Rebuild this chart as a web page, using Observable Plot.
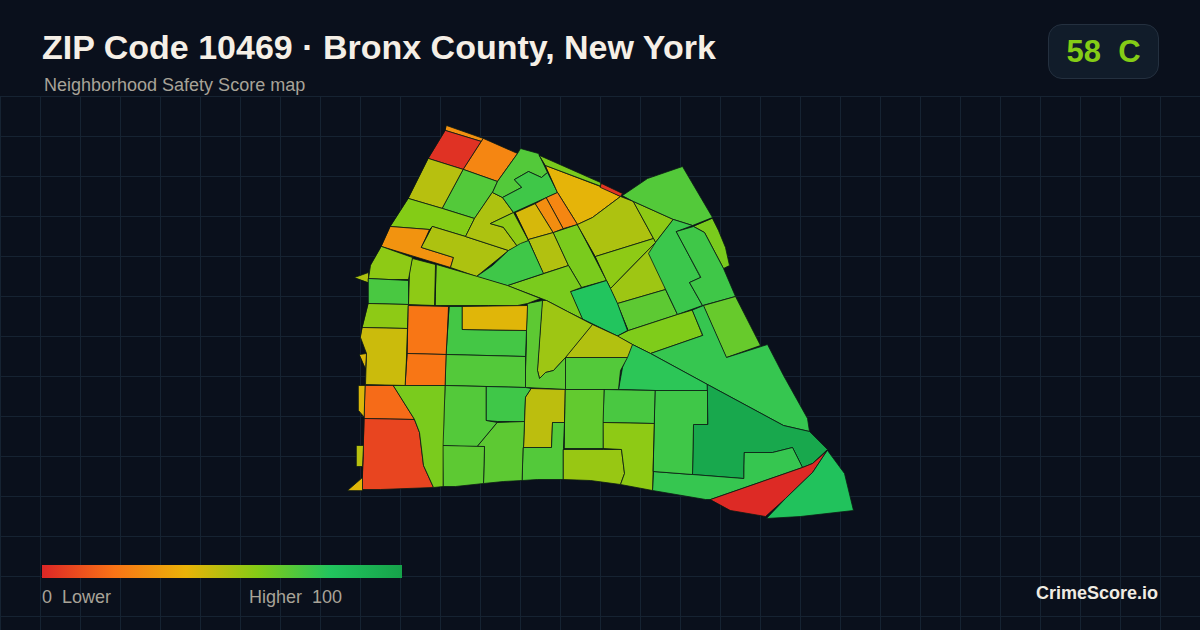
<!DOCTYPE html>
<html>
<head>
<meta charset="utf-8">
<script src="https://cdn.jsdelivr.net/npm/d3@7"></script>
<script src="https://cdn.jsdelivr.net/npm/@observablehq/plot@0.6"></script>
<style>
html,body{margin:0;padding:0;background:#0a101c;}
#page{position:relative;width:1200px;height:630px;overflow:hidden;background:#0a101c;font-family:"Liberation Sans",Arial,sans-serif;}
#grid{position:absolute;left:0;top:96px;width:1200px;height:534px;
background-image:linear-gradient(#162332 1px,transparent 1px),linear-gradient(90deg,#162332 1px,transparent 1px);background-size:40px 40px;}
#map{position:absolute;left:0;top:96px;}
#title{position:absolute;left:42px;top:28px;font-size:34px;line-height:38px;font-weight:700;color:#f5efe6;white-space:nowrap;}
#subtitle{position:absolute;left:44px;top:75px;font-size:18px;line-height:20px;color:#a8a398;white-space:nowrap;}
#badge{position:absolute;left:1048px;top:24px;width:109px;height:53px;border:1px solid #24303f;border-radius:14px;background:#111c2a;color:#84cc16;font-size:31px;font-weight:700;line-height:53px;text-align:center;white-space:pre;}
#bar{position:absolute;left:42px;top:565px;width:360px;height:13px;}
.lg{position:absolute;top:587px;font-size:18px;line-height:20px;color:#a8a398;white-space:pre;}
#brand{position:absolute;right:42px;top:583px;font-size:18px;line-height:20px;font-weight:700;color:#f0ebe3;white-space:nowrap;}
</style>
</head>
<body>
<div id="page">
  <div id="grid"></div>
  <div id="map"></div>
  <div id="title"></div>
  <div id="subtitle"></div>
  <div id="badge"></div>
  <div id="bar"></div>
  <div class="lg" id="lgLow" style="left:42px"></div>
  <div class="lg" id="lgHigh" style="left:249px"></div>
  <div id="brand"></div>
</div>
<script>
const titleText = "ZIP Code 10469 · Bronx County, New York";
const subtitleText = "Neighborhood Safety Score map";
const badgeText = "58  C";
const lowLabel = "0  Lower";
const highLabel = "Higher  100";
const brandText = "CrimeScore.io";

const scoreStops = [0, 20, 40, 60, 80, 100];
const scoreColors = ["#dc2626", "#f97316", "#eab308", "#84cc16", "#22c55e", "#16a34a"];

const zoneScores = [
  29, 3, 26, 50, 70, 60, 30, 52, 52, 58, 70, 74, 41, 62, 4,
  44, 28, 26, 51, 62, 52, 58, 58, 55, 68, 80, 62, 74,
  70, 62, 75, 74, 66, 61, 76, 78, 97, 76, 1, 82,
  70, 51, 55, 68, 62, 58, 58, 52, 72, 58, 46, 43, 21, 21, 73, 42, 70,
  43, 18, 8, 50, 42, 62, 70, 74, 49, 68, 68, 70, 67, 56, 72, 58, 74
];

const zoneRings = [
  [[446,125],[483,138],[481,141],[445,130]],
  [[445,130],[481,141],[463,169],[428,158]],
  [[483,138],[517,153],[497,181],[463,169]],
  [[428,158],[463,169],[442,208],[408,198]],
  [[463,169],[497,181],[492,192],[474,218],[442,208]],
  [[408,198],[442,208],[474,218],[465,236],[432,226],[429,229],[390,226]],
  [[390,226],[429,229],[421,247],[453,257],[450,267],[381,246]],
  [[432,226],[465,236],[508,250],[476,276],[450,267],[453,257],[421,247]],
  [[492,192],[502,197],[513,212],[490,223],[503,227],[517,246],[508,250],[465,236],[474,218]],
  [[490,223],[513,212],[528,240],[517,246],[503,227]],
  [[517,153],[520,148],[538,153],[547,172],[541,177],[528,171],[514,179],[521,187],[502,197],[492,192],[497,181]],
  [[514,179],[528,171],[541,177],[547,172],[557,192],[513,212],[502,197],[521,187]],
  [[545,165],[600,186],[620,196],[592,217],[577,224],[557,192]],
  [[539,155],[600,182],[601,186],[545,165]],
  [[601,183],[622,193],[620,196],[600,187]],
  [[515,212],[535,203],[553,232],[528,239]],
  [[535,203],[546,197],[563,228],[553,232]],
  [[546,197],[557,192],[577,224],[563,228]],
  [[528,239],[553,232],[568,265],[543,273]],
  [[553,232],[577,224],[606,280],[581,287],[568,265]],
  [[577,224],[592,217],[620,196],[633,201],[653,238],[595,256]],
  [[633,201],[673,219],[655,242],[653,238]],
  [[595,256],[653,238],[655,242],[610,288],[606,280]],
  [[610,288],[655,242],[665,289],[617,303]],
  [[617,303],[665,289],[677,314],[628,330]],
  [[570,291],[606,280],[610,288],[617,303],[627,330],[617,335.5],[582,318.5]],
  [[507,285],[568,265],[581,287],[570,291],[582,318.5],[567,311],[546,300]],
  [[476,276],[492,265],[508,250],[520,243],[528,240],[543,273],[507,285]],
  [[622,195],[647,178],[682,166],[712,217],[692,225],[673,219],[633,201]],
  [[712,218],[718,230],[725,247],[729,265],[723,268],[704,232],[693,226]],
  [[673,219],[692,225],[676,231],[700,277],[689,282],[702,305],[677,314],[648,253],[655,242]],
  [[676,231],[693,226],[704,232],[723,268],[735,296],[702,305],[689,282],[700,277]],
  [[703,305],[735,296],[760,345],[726,357]],
  [[617,335.5],[628,330],[677,314],[692,309.5],[702,335],[650,353],[632,344]],
  [[692,309.5],[703,305],[726,357],[767,344],[783,375],[807,418],[809,431],[783,425],[707,384],[650,353],[702,335]],
  [[632,344],[650,353],[707,384],[707,390],[655,390],[618,389],[622,367]],
  [[707,384],[783,425],[809,431],[827,449],[812,463],[802,467],[792,447],[772,452],[744,452],[743,478],[692,474],[693,424],[707,424]],
  [[744,452],[772,452],[792,447],[802,467],[710,499],[705,499],[652,490],[653,471],[692,474],[743,478]],
  [[710,499],[802,467],[812,463],[827,450],[812,472],[785,498],[765,516],[730,510]],
  [[827,450],[844,473],[853,510],[800,516],[766,518],[785,498],[812,472]],
  [[565,357],[627,357],[620,370],[618,389],[565,389]],
  [[592,324],[617,335.5],[632,344],[627,357],[565,357]],
  [[542,300],[546,300],[567,311],[592,324],[565,357],[553,370],[545,372],[539,378],[537,370]],
  [[527,303],[542,300],[537,370],[539,378],[545,372],[553,370],[565,357],[565,389],[525,387]],
  [[436,264],[477,276],[507,285],[540,298],[527,303],[517,305],[488,305],[435,305]],
  [[412,258],[435,264],[434,305],[408,304],[409,272]],
  [[381,246],[412,257],[408,279],[388,279],[368,278],[370,265]],
  [[354,277],[368,272],[368,282]],
  [[368,278],[408,280],[408,304],[368,303]],
  [[368,303],[408,304],[407,328],[362,327]],
  [[362,327],[407,328],[405,385],[365,384],[366,353],[360,337]],
  [[359,354],[366,353],[365,368]],
  [[408,305],[448,306],[446,354],[407,353]],
  [[407,353],[446,354],[445,385],[405,385]],
  [[449,306],[462,306],[462,329],[526,330],[525,356],[446,354]],
  [[462,306],[527,305],[526,330],[462,329]],
  [[446,354],[525,356],[525,387],[486,386],[445,385]],
  [[358,385],[365,385],[364,417],[358,410]],
  [[365,385],[393,385],[414,419],[364,418]],
  [[364,418],[414,419],[419,432],[423,465],[433,487],[380,489],[362,489]],
  [[356,445],[363,445],[362,466],[356,466]],
  [[347,490],[362,477],[362,490]],
  [[393,385],[445,385],[444,445],[443,486],[433,487],[423,465],[419,432],[414,419]],
  [[445,385],[486,386],[486,420],[497,422],[477,446],[460,446],[443,445]],
  [[486,386],[525,387],[531,388],[525,397],[524,421],[497,421],[486,420]],
  [[531,388],[565,389],[564,422],[552,422],[551,447],[523,447],[525,397]],
  [[497,422],[524,421],[523,447],[522,480],[503,481],[483,483],[484,446],[477,446]],
  [[443,445],[484,446],[483,483],[455,486],[443,486]],
  [[523,447],[551,447],[552,422],[564,422],[563,448],[563,479],[537,479],[522,480]],
  [[565,389],[604,389],[603,448],[564,448]],
  [[563,449],[603,449],[621,449],[624,473],[620,484],[590,480],[563,479]],
  [[604,389],[655,390],[654,423],[603,422]],
  [[603,422],[654,423],[652,490],[620,484],[624,473],[621,449],[603,448]],
  [[655,390],[707,390],[707,424],[693,424],[692,474],[653,471]]
];

const zones = {
  type: "FeatureCollection",
  features: zoneRings.map((ring, i) => ({
    type: "Feature",
    properties: {score: zoneScores[i]},
    geometry: {type: "Polygon", coordinates: [[...ring, ring[0]]]}
  }))
};

const chart = Plot.plot({
  width: 1200,
  height: 444,
  margin: 0,
  style: {background: "transparent", overflow: "visible"},
  projection: d3.geoIdentity().translate([0, -96]),
  color: {type: "linear", domain: scoreStops, range: scoreColors},
  marks: [
    Plot.geo(zones.features, {
      fill: d => d.properties.score,
      stroke: "#0b1a14",
      strokeWidth: 0.8,
      strokeLinejoin: "round"
    })
  ]
});
document.getElementById("map").appendChild(chart);

document.getElementById("title").textContent = titleText;
document.getElementById("subtitle").textContent = subtitleText;
document.getElementById("badge").textContent = badgeText;
document.getElementById("lgLow").textContent = lowLabel;
document.getElementById("lgHigh").textContent = highLabel;
document.getElementById("brand").textContent = brandText;
document.getElementById("bar").style.background =
  "linear-gradient(90deg," + scoreColors.map((c, i) => c + " " + scoreStops[i] + "%").join(",") + ")";
</script>
</body>
</html>
